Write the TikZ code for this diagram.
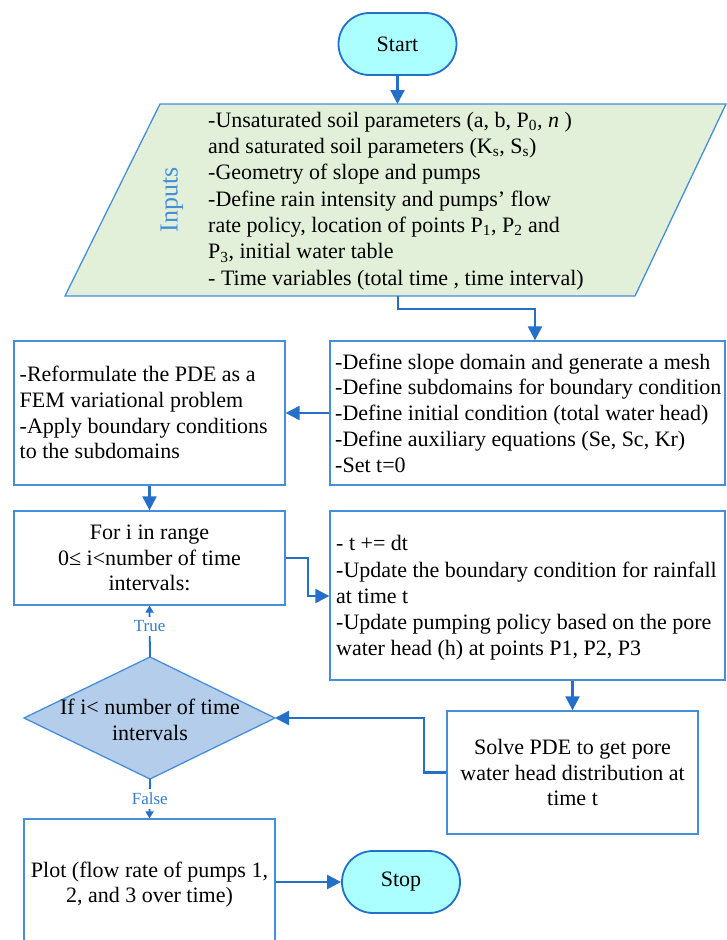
\documentclass[tikz,border=0pt]{standalone}
\usepackage{fontspec}
\setmainfont{Liberation Serif}
\usetikzlibrary{arrows.meta}
\definecolor{lineblue}{RGB}{36,112,200}
\definecolor{boxblue}{RGB}{70,142,218}
\definecolor{labblue}{RGB}{52,125,205}
\definecolor{ingreen}{RGB}{226,240,217}
\definecolor{dfill}{RGB}{180,205,234}
\definecolor{aquafill}{RGB}{172,255,255}
\newcommand\fs{\fontsize{22}{25.8}\selectfont}
\newcommand\fsin{\fontsize{22}{26.3}\selectfont}
\begin{document}
\begin{tikzpicture}[x=1pt,y=-1pt,
 box/.style={draw=boxblue, line width=1.3pt, inner sep=0pt, rectangle},
 txt/.style={font=\fs, inner sep=0pt, align=left, anchor=west},
 ctxt/.style={font=\fs, inner sep=0pt, align=center},
 term/.style={draw=lineblue, line width=1.8pt, fill=aquafill, rounded corners=31pt, minimum width=118pt, minimum height=62pt, font=\fs, inner sep=0pt},
 conn/.style={draw=lineblue, line width=2.2pt, -{Triangle[length=14pt,width=14pt]}},
 sconn/.style={draw=lineblue, line width=1.8pt, -{Triangle[length=7pt,width=8pt]}},
 lab/.style={font=\fontsize{17}{20}\selectfont, text=labblue, fill=white, inner xsep=1pt, inner ysep=4pt}
]
\useasboundingbox (0,0) rectangle (727,940);
\fill[white] (0,0) rectangle (727,940);

% Start
\node[term] (start) at (397.5,44) {Start};

% Inputs parallelogram
\coordinate (iTL) at (160,104);
\coordinate (iTR) at (726,104);
\coordinate (iBR) at (635,296);
\coordinate (iBL) at (65,296);
\coordinate (inT) at (397.5,104);
\coordinate (inB) at (398,296);
\path[draw=boxblue, line width=1.3pt, fill=ingreen] (iTL) -- (iTR) -- (iBR) -- (iBL) -- cycle;
\node[font=\fontsize{26}{30}\selectfont, text=boxblue, rotate=90, inner sep=0pt] (inlabel) at (172,200) {Inputs};
\node[txt, font=\fsin] (intext) at (208,201) {-Unsaturated soil parameters (a, b, P\textsubscript{0}\textit{,} \textit{n} )\\and saturated soil parameters (K\textsubscript{s}, S\textsubscript{s})\\-Geometry of slope and pumps\\-Define rain intensity and pumps’ flow\\rate policy, location of points P\textsubscript{1}, P\textsubscript{2} and\\P\textsubscript{3}, initial water table\\- Time variables (total time , time interval)};

% Right box 1
\node[box, minimum width=395pt, minimum height=144pt] (rb1) at (527.5,413) {};
\node[txt] (rb1t) at (335,413) {-Define slope domain and generate a mesh\\-Define subdomains for boundary condition\\-Define initial condition (total water head)\\-Define auxiliary equations (Se, Sc, Kr)\\-Set t=0};

% Left box 1
\node[box, minimum width=271pt, minimum height=144pt] (lb1) at (149.5,413) {};
\node[txt] (lb1t) at (19.5,412.5) {-Reformulate the PDE as a\\FEM variational problem\\-Apply boundary conditions\\to the subdomains};

% Left box 2
\node[box, ctxt, minimum width=271pt, minimum height=94pt] (lb2) at (149.5,558) {For i in range\\0≤ i<number of time\\intervals:};

% Right box 2
\node[box, minimum width=395pt, minimum height=169pt] (rb2) at (527.5,595.5) {};
\node[txt, font=\fsin] (rb2t) at (336,598) {- t += dt\\-Update the boundary condition for rainfall\\at time t\\-Update pumping policy based on the pore\\water head (h) at points P1, P2, P3};

% Solve box
\node[box, ctxt, minimum width=251pt, minimum height=123pt] (solve) at (572.5,772.5) {Solve PDE to get pore\\water head distribution at\\time t};

% Diamond
\coordinate (dT) at (150,657);
\coordinate (dR) at (275,718);
\coordinate (dB) at (150,779);
\coordinate (dL) at (24,718);
\path[draw=boxblue, line width=1.3pt, fill=dfill] (dT) -- (dR) -- (dB) -- (dL) -- cycle;
\node[ctxt] (dtext) at (150,719.5) {If i< number of time\\intervals};

% Plot box (bottom edge runs off the picture)
\node[box, ctxt, minimum width=251pt, minimum height=131pt] (plot) at (149.5,884.5) {Plot (flow rate of pumps 1,\\2, and 3 over time)};

% Stop
\node[term] (stop) at (401,882) {Stop};

% Connectors
\draw[conn] (start.south) -- (inT);
\coordinate (k1) at (535,309);
\draw[conn] (inB) |- (k1) -- (k1 |- rb1.north);
\draw[conn] (rb1.west) -- (lb1.east);
\draw[conn] (lb1.south) -- (lb2.north);
\coordinate (k2) at (308,596);
\draw[conn] (lb2.east) -| (k2) -- (k2 -| rb2.west);
\draw[conn] (solve.north |- rb2.south) -- (solve.north);
\coordinate (k3) at (424,718);
\draw[conn] (solve.west) -| (k3) -- (dR);
\draw[sconn] (dT) -- node[lab, pos=0.6] (truel) {True} (lb2.south);
\draw[sconn] (dB) -- node[lab, pos=0.5] (falsel) {False} (plot.north);
\draw[conn] (plot.east |- stop.west) -- (stop.west);
\end{tikzpicture}
\end{document}
